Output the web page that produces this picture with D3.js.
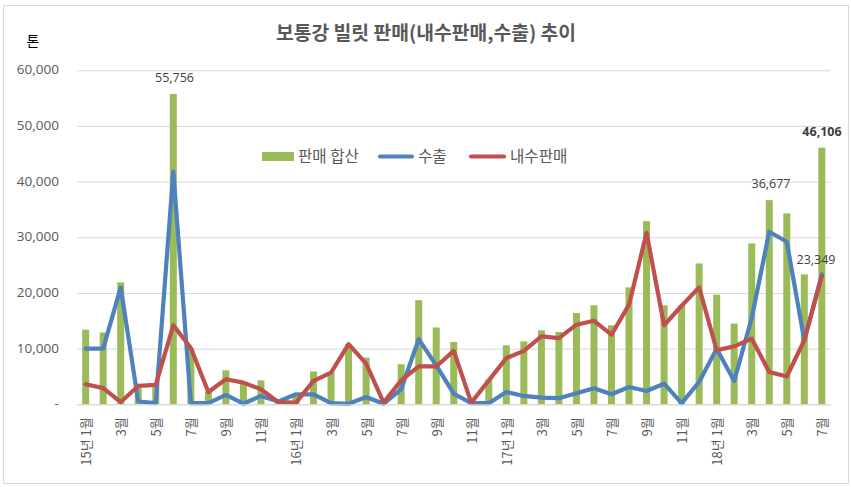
<!DOCTYPE html>
<html><head><meta charset="utf-8">
<script src="https://cdnjs.cloudflare.com/ajax/libs/d3/7.8.5/d3.min.js"></script>
<style>html,body{margin:0;padding:0;background:#fff}svg{display:block}</style></head>
<body><svg id="c" width="851" height="487"></svg>
<script>
const categories=["15년 1월","2월","3월","4월","5월","6월","7월","8월","9월","10월","11월","12월",
"16년 1월","2월","3월","4월","5월","6월","7월","8월","9월","10월","11월","12월",
"17년 1월","2월","3월","4월","5월","6월","7월","8월","9월","10월","11월","12월",
"18년 1월","2월","3월","4월","5월","6월","7월"];
const totalSales=[13400,12900,21900,3500,3500,55756,10000,2300,6100,3900,4300,600,1800,5900,5700,10800,8400,300,7200,18700,13800,11200,300,4400,10600,11300,13300,13000,16400,17800,14200,21000,32900,17800,17800,25300,19700,14500,28900,36677,34300,23349,46106];
const exportSales=[10000,10000,21000,500,200,41800,200,200,1700,100,1500,500,1800,1800,200,100,1300,100,2700,11700,7000,1900,200,200,2200,1500,1200,1100,2000,2900,1800,3100,2400,3700,200,4000,10000,4200,15500,31000,29200,11500,23349];
const domesticSales=[3600,2900,400,3300,3500,14200,10100,2200,4500,3900,2700,400,300,4200,5700,10800,7300,300,4300,6800,6800,9600,300,4300,8300,9600,12200,11900,14300,15000,12500,17900,30800,14200,17700,21000,9700,10400,11800,5800,5000,11500,23000];
const yTicks=[0,10000,20000,30000,40000,50000,60000];
const labelled=[5,39,41,42];
const FONT="'Noto Sans CJK KR','Noto Sans',sans-serif";
const NUM="'Open Sans','DejaVu Sans',sans-serif";
const grey="#595959";
const svg=d3.select("#c");
svg.append("rect").attr("x",3.5).attr("y",5.5).attr("width",825+20).attr("height",478).attr("fill","#fff").attr("stroke","#d9d9d9").attr("stroke-width",1);
const x=d3.scaleBand().domain(d3.range(categories.length)).range([76.9,830.6]);
const y=d3.scaleLinear().domain([0,60000]).range([404.3,70.3]);
const cx=i=>x(i)+x.bandwidth()/2;

const gy=svg.append("g").attr("transform","translate(76.9,0)")
 .call(d3.axisLeft(y).tickValues(yTicks).tickSize(0).tickPadding(18).tickFormat(d=>d===0?"-":d3.format(",")(d)));
gy.select(".domain").remove();
gy.selectAll("text").attr("font-family",NUM).attr("font-size",13.5).attr("fill",grey).attr("dy","0.27em");
gy.selectAll("line").attr("x2",753.7).attr("stroke","#d9d9d9").attr("stroke-width",1);

svg.append("g").selectAll("rect").data(totalSales).join("rect")
 .attr("x",(d,i)=>cx(i)-3.5).attr("width",7).attr("y",d=>y(d)).attr("height",d=>y(0)-y(d)).attr("fill","#9bbb59");

const line=d3.line().x((d,i)=>cx(i)).y(d=>y(d)).curve(d3.curveLinear);
[[exportSales,"#4f81bd"],[domesticSales,"#c0504d"]].forEach(([s,c])=>{
 svg.append("path").attr("d",line(s)).attr("fill","none").attr("stroke",c).attr("stroke-width",4.2).attr("stroke-linejoin","round").attr("stroke-linecap","round");
});

const gx=svg.append("g").attr("transform","translate(0,404.3)")
 .call(d3.axisBottom(d3.scalePoint().domain(d3.range(categories.length)).range([cx(0),cx(42)]))
 .tickValues(d3.range(0,43,2)).tickSize(0).tickFormat(i=>categories[i]));
gx.select(".domain").attr("stroke","#d9d9d9").attr("d",`M76.9,0.5H830.6`);
gx.selectAll("text").attr("font-family",FONT).attr("font-size",13).attr("fill",grey)
 .attr("text-anchor","end").attr("dy",null).attr("y",0)
 .attr("transform","translate(5,13) rotate(-90)");

labelled.forEach(i=>{
 const pos={5:[174.5,82],39:[771,188],41:[816,264],42:[822,136]}[i];
 svg.append("text").attr("x",pos[0]).attr("y",pos[1]).attr("text-anchor","middle")
 .attr("font-family",NUM).attr("font-size",12.5).attr("font-weight",i==42?700:400).attr("fill","#404040").text(d3.format(",")(totalSales[i]));
});

svg.append("text").attr("x",426).attr("y",40).attr("text-anchor","middle").attr("font-family",FONT).attr("font-size",19.3).attr("font-weight",700).attr("fill",grey).text("보통강 빌릿 판매(내수판매,수출) 추이");
svg.append("text").attr("x",33).attr("y",46).attr("text-anchor","middle").attr("font-family",FONT).attr("font-size",14).attr("fill","#000").text("톤");

const leg=svg.append("g").attr("font-family",FONT).attr("font-size",15.6).attr("fill",grey);
leg.append("rect").attr("x",262).attr("y",152).attr("width",32).attr("height",9).attr("fill","#9bbb59");
leg.append("text").attr("x",298).attr("y",162).text("판매 합산");
leg.append("line").attr("x1",380).attr("x2",412).attr("y1",156.5).attr("y2",156.5).attr("stroke","#4f81bd").attr("stroke-width",4.2).attr("stroke-linecap","round");
leg.append("text").attr("x",418).attr("y",162).text("수출");
leg.append("line").attr("x1",471).attr("x2",504).attr("y1",156.5).attr("y2",156.5).attr("stroke","#c0504d").attr("stroke-width",4.2).attr("stroke-linecap","round");
leg.append("text").attr("x",510).attr("y",162).text("내수판매");
</script></body></html>
